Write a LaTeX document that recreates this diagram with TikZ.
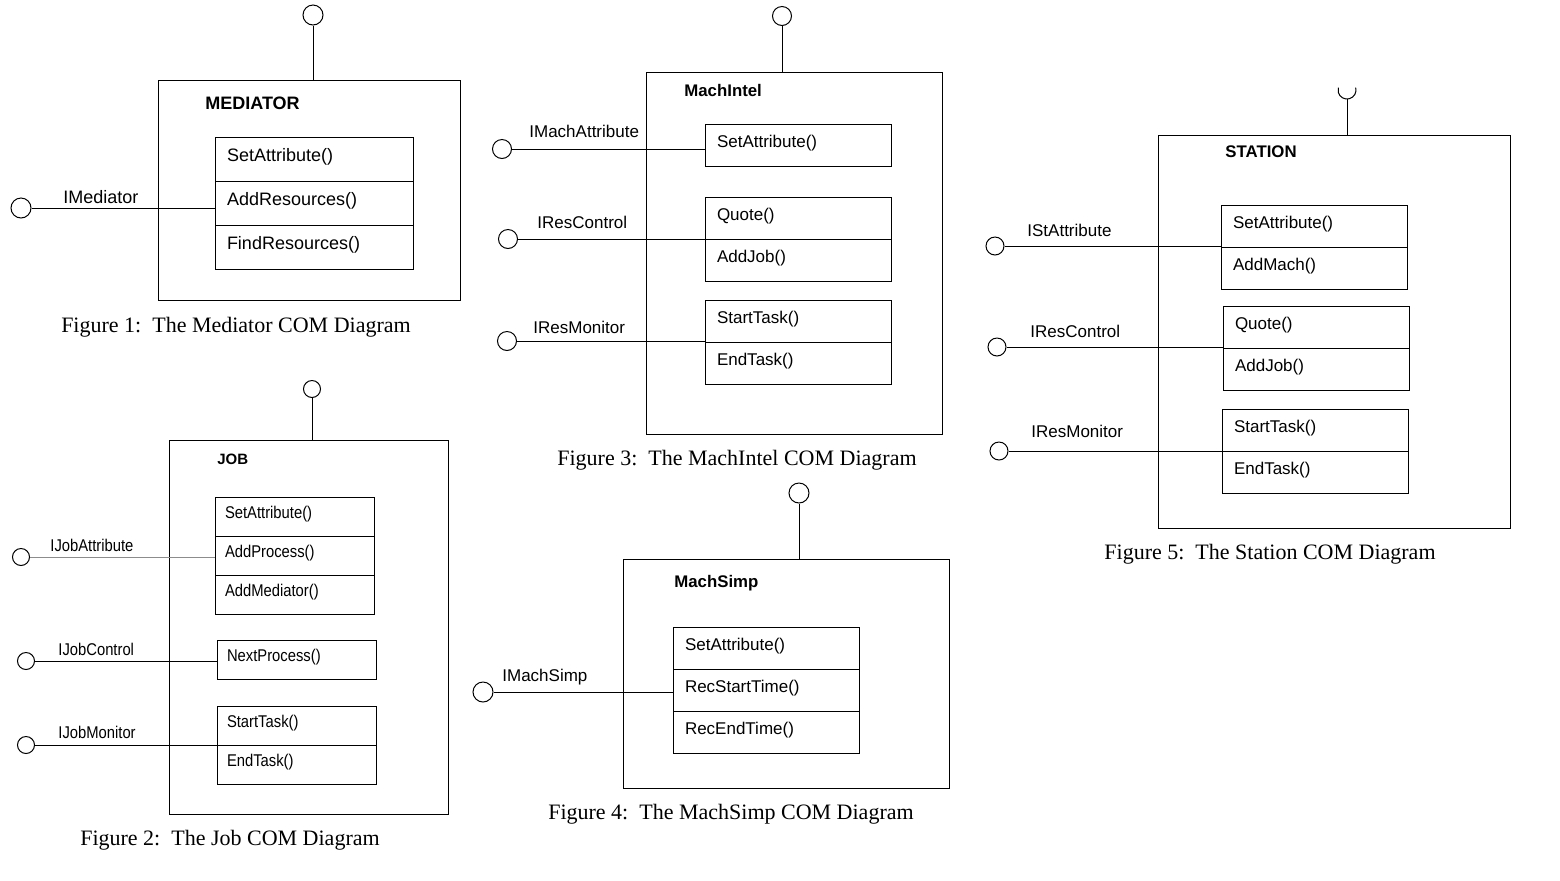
\documentclass[tikz,border=0pt]{standalone}
\usepackage{fontspec}
\setmainfont{Liberation Sans}
\newfontfamily\capfont{Liberation Serif}
\newfontfamily\narrowfont[FakeStretch=0.87]{Liberation Sans}
\usetikzlibrary{positioning}

\begin{document}
\begin{tikzpicture}[x=0.5pt, y=-0.5pt,
    wrap/.style={draw, line width=0.5pt, inner sep=0pt, outer sep=0pt, anchor=north west},
    lolli/.style={circle, draw, line width=0.5pt, inner sep=0pt, minimum size=9.5pt},
    link/.style={line width=0.5pt},
    cell/.style={draw, line width=0.5pt, anchor=north west, inner xsep=6pt, inner ysep=0pt, outer sep=0pt, align=left},
    bigcell/.style={cell, text width=87pt, text height=12pt, text depth=10pt, font=\fontsize{9}{11}\selectfont},
    midcell/.style={cell, text width=81pt, text height=11.5pt, text depth=9.5pt, font=\fontsize{8.5}{10}\selectfont},
    jobcell/.style={cell, inner xsep=5pt, text width=69.5pt, text height=10.5pt, text depth=9pt, font=\narrowfont\fontsize{8.5}{10}\selectfont},
    title/.style={anchor=base west, inner xsep=0pt, font=\bfseries\fontsize{8.4}{10}\selectfont},
    iface/.style={anchor=base west, inner xsep=0pt, font=\fontsize{8.5}{10}\selectfont},
    caption/.style={anchor=base, font=\capfont\fontsize{11}{13}\selectfont}]
    \useasboundingbox (0,0) rectangle (1560,880);

    % Figure 1: Mediator
    \node[wrap, minimum width=151pt, minimum height=110pt] (med) at (158,80) {};
    \node[title, font=\bfseries\fontsize{9}{11}\selectfont] (medT) at (205,109) {MEDIATOR};
    \node[bigcell] (medA) at (215,137) {SetAttribute()};
    \node[bigcell] (medB) at (medA.south west) {AddResources()};
    \node[bigcell] (medC) at (medB.south west) {FindResources()};
    \node[lolli, minimum size=10pt] (medTop) at (313,15) {};
    \draw[link] (medTop) -- (medTop |- med.north);
    \node[lolli, minimum size=10pt] (medI) at (21,208) {};
    \draw[link] (medI) -- (medI -| medB.west);
    \node[iface, font=\fontsize{9}{11}\selectfont] (medIT) at (63,203) {IMediator};
    \node[caption] (medCap) at (236,332) {Figure 1:\ \ The Mediator COM Diagram};

    % Figure 2: Job
    \node[wrap, minimum width=139.5pt, minimum height=187pt] (job) at (169,440) {};
    \node[title, font=\bfseries\fontsize{7.5}{9}\selectfont] (jobT) at (217,464) {JOB};
    \node[jobcell] (jobA) at (215,497) {SetAttribute()};
    \node[jobcell] (jobB) at (jobA.south west) {AddProcess()};
    \node[jobcell] (jobC) at (jobB.south west) {AddMediator()};
    \node[jobcell] (jobD) at (217,640) {NextProcess()};
    \node[jobcell] (jobE) at (217,706) {StartTask()};
    \node[jobcell] (jobF) at (jobE.south west) {EndTask()};
    \node[lolli, minimum size=8.5pt] (jobTop) at (312,389) {};
    \draw[link] (jobTop) -- (jobTop |- job.north);
    \node[lolli, minimum size=8.5pt] (jobI1) at (21,557) {};
    \node[lolli, minimum size=8.5pt] (jobI2) at (26,661) {};
    \node[lolli, minimum size=8.5pt] (jobI3) at (26,745) {};
    \draw[link, black!45] (jobI1) -- (jobI1 -| jobB.west);
    \draw[link] (jobI2) -- (jobI2 -| jobD.west);
    \draw[link] (jobI3) -- (jobI3 -| jobF.west);
    \node[iface, font=\narrowfont\fontsize{8.5}{10}\selectfont] (jobI1T) at (50,551) {IJobAttribute};
    \node[iface, font=\narrowfont\fontsize{8.5}{10}\selectfont] (jobI2T) at (58,655) {IJobControl};
    \node[iface, font=\narrowfont\fontsize{8.5}{10}\selectfont] (jobI3T) at (58,738) {IJobMonitor};
    \node[caption] (jobCap) at (230,845) {Figure 2:\ \ The Job COM Diagram};

    % Figure 3: MachIntel
    \node[wrap, minimum width=148pt, minimum height=181pt] (mi) at (646,72) {};
    \node[title] (miT) at (684,96) {MachIntel};
    \node[midcell] (miA) at (705,124) {SetAttribute()};
    \node[midcell] (miB) at (705,197) {Quote()};
    \node[midcell] (miC) at (miB.south west) {AddJob()};
    \node[midcell] (miD) at (705,300) {StartTask()};
    \node[midcell] (miE) at (miD.south west) {EndTask()};
    \node[lolli] (miTop) at (782,16) {};
    \draw[link] (miTop) -- (miTop |- mi.north);
    \node[lolli] (miI1) at (502,149) {};
    \node[lolli] (miI2) at (508,239) {};
    \node[lolli] (miI3) at (507,341) {};
    \draw[link] (miI1) -- (miI1 -| miA.west);
    \draw[link] (miI2) -- (miI2 -| miC.west);
    \draw[link] (miI3) -- (miI3 -| miE.west);
    \node[iface] (miI1T) at (529,137) {IMachAttribute};
    \node[iface] (miI2T) at (537,228) {IResControl};
    \node[iface] (miI3T) at (533,333) {IResMonitor};
    \node[caption] (miCap) at (737,465) {Figure 3:\ \ The MachIntel COM Diagram};

    % Figure 4: MachSimp
    \node[wrap, minimum width=163pt, minimum height=114.5pt] (ms) at (623,559) {};
    \node[title] (msT) at (674,587) {MachSimp};
    \node[midcell] (msA) at (673,627) {SetAttribute()};
    \node[midcell] (msB) at (msA.south west) {RecStartTime()};
    \node[midcell] (msC) at (msB.south west) {RecEndTime()};
    \node[lolli, minimum size=10pt] (msTop) at (799,493) {};
    \draw[link] (msTop) -- (msTop |- ms.north);
    \node[lolli, minimum size=10pt] (msI) at (483,692) {};
    \draw[link] (msI) -- (msI -| msB.west);
    \node[iface] (msIT) at (502,681) {IMachSimp};
    \node[caption] (msCap) at (731,819) {Figure 4:\ \ The MachSimp COM Diagram};

    % Figure 5: Station (top socket only half shown)
    \node[wrap, minimum width=176pt, minimum height=196.5pt] (st) at (1158,135) {};
    \node[title] (stT) at (1225,157) {STATION};
    \node[midcell] (stA) at (1221,205) {SetAttribute()};
    \node[midcell] (stB) at (stA.south west) {AddMach()};
    \node[midcell] (stC) at (1223,306) {Quote()};
    \node[midcell] (stD) at (stC.south west) {AddJob()};
    \node[midcell] (stE) at (1222,409) {StartTask()};
    \node[midcell] (stF) at (stE.south west) {EndTask()};
    \coordinate (stHub) at (1347,90);
    \coordinate (stTop) at (1347,99);
    \draw[link] ([shift={(-15:9)}]stHub) arc[start angle=-15, end angle=195, radius=9];
    \draw[link] (stTop) -- (stTop |- st.north);
    \node[lolli, minimum size=9pt] (stI1) at (995,246) {};
    \node[lolli, minimum size=9pt] (stI2) at (997,347) {};
    \node[lolli, minimum size=9pt] (stI3) at (999,451) {};
    \draw[link] (stI1) -- (stI1 -| stA.west);
    \draw[link] (stI2) -- (stI2 -| stD.west);
    \draw[link] (stI3) -- (stI3 -| stF.west);
    \node[iface] (stI1T) at (1027,236) {IStAttribute};
    \node[iface] (stI2T) at (1030,337) {IResControl};
    \node[iface] (stI3T) at (1031,437) {IResMonitor};
    \node[caption] (stCap) at (1270,559) {Figure 5:\ \ The Station COM Diagram};
\end{tikzpicture}
\end{document}
